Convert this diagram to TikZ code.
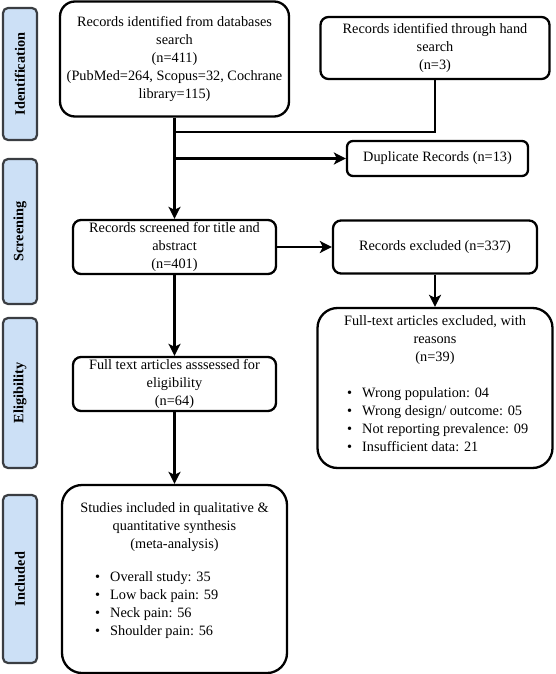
\documentclass[tikz,border=0pt]{standalone}
\usepackage{fontspec}
\setmainfont{Liberation Serif}
\usetikzlibrary{positioning,arrows.meta}
\definecolor{phasefill}{HTML}{CCE0F6}
\definecolor{phasedraw}{HTML}{3A3D42}
\newcommand{\itm}{\textbullet\hspace{10pt}}

\begin{document}
\begin{tikzpicture}[x=1pt, y=-1pt, font=\fontsize{14.3}{18}\selectfont,
  box/.style={draw, line width=2.3pt, rounded corners=8pt, align=center, inner sep=2pt},
  phase/.style={draw=phasedraw, fill=phasefill, line width=2.2pt, rounded corners=5pt,
    rotate=90, minimum height=34pt, inner sep=2pt, font=\fontsize{14.3}{16}\selectfont\bfseries},
  conn/.style={line width=2.3pt},
  flow/.style={conn, -{Stealth[length=12pt,width=12pt,inset=3pt]}},
  list/.style={align=left, inner sep=0pt}]

  \useasboundingbox (0,0) rectangle (555,674);

  % phase labels on the left
  \foreach \name/\y/\len/\txt in {ident/74/132/Identification, screen/231.5/145/Screening,
      elig/393/150/Eligibility, incl/579/168/Included} {
    \node[phase, minimum width=\len pt] (p\name) at (20,\y) {\txt};
  }

  % identification
  \node[box, rounded corners=15pt, minimum width=229pt, minimum height=115pt] (db) at (174.5,59)
    {Records identified from databases\\search\\(n=411)\\(PubMed=264, Scopus=32, Cochrane\\library=115)};
  \node[box, minimum width=229pt, minimum height=62pt] (hand) at (435,48)
    {Records identified through hand\\search\\(n=3)};

  % screening
  \node[box, rounded corners=6pt, minimum width=181pt, minimum height=35pt] (dup) at (437.5,158.5)
    {Duplicate Records (n=13)};
  \node[box, minimum width=203pt, minimum height=54pt] (screen) at (174.5,247)
    {Records screened for title and\\abstract\\(n=401)};
  \node[box, minimum width=204pt, minimum height=53pt] (excl) at (435,247)
    {Records excluded (n=337)};

  % eligibility
  \node[box, minimum width=203pt, minimum height=54pt] (elig) at (174.5,384)
    {Full text articles asssessed for\\eligibility\\(n=64)};
  \node[box, rounded corners=20pt, minimum width=235pt, minimum height=160pt] (ftex) at (435,388) {};
  \node[list, align=center] (ftexhead) at (435,340)
    {Full-text articles excluded, with\\reasons\\(n=39)};
  \node[list, anchor=west] (ftexlist) at (347,420)
    {\itm Wrong population: 04\\\itm Wrong design/ outcome: 05\\
     \itm Not reporting prevalence: 09\\\itm Insufficient data: 21};

  % included
  \node[box, rounded corners=20pt, minimum width=225pt, minimum height=188pt] (incl) at (174.5,579) {};
  \node[list, align=center] (inclhead) at (174.5,527)
    {Studies included in qualitative \&\\quantitative synthesis\\(meta-analysis)};
  \node[list, anchor=west] (incllist) at (95,605)
    {\itm Overall study: 35\\\itm Low back pain: 59\\\itm Neck pain: 56\\\itm Shoulder pain: 56};

  % connectors
  \coordinate (join) at (174.5,132);
  \coordinate (dupfork) at (db.south |- dup.west);
  \draw[conn] (hand.south) |- (join);
  \draw[flow] (db) -- (screen);
  \draw[flow] (dupfork) -- (dup.west);
  \draw[flow] (screen) -- (excl);
  \draw[flow] (excl) -- (ftex);
  \draw[flow] (screen) -- (elig);
  \draw[flow] (elig) -- (incl);

\end{tikzpicture}
\end{document}
